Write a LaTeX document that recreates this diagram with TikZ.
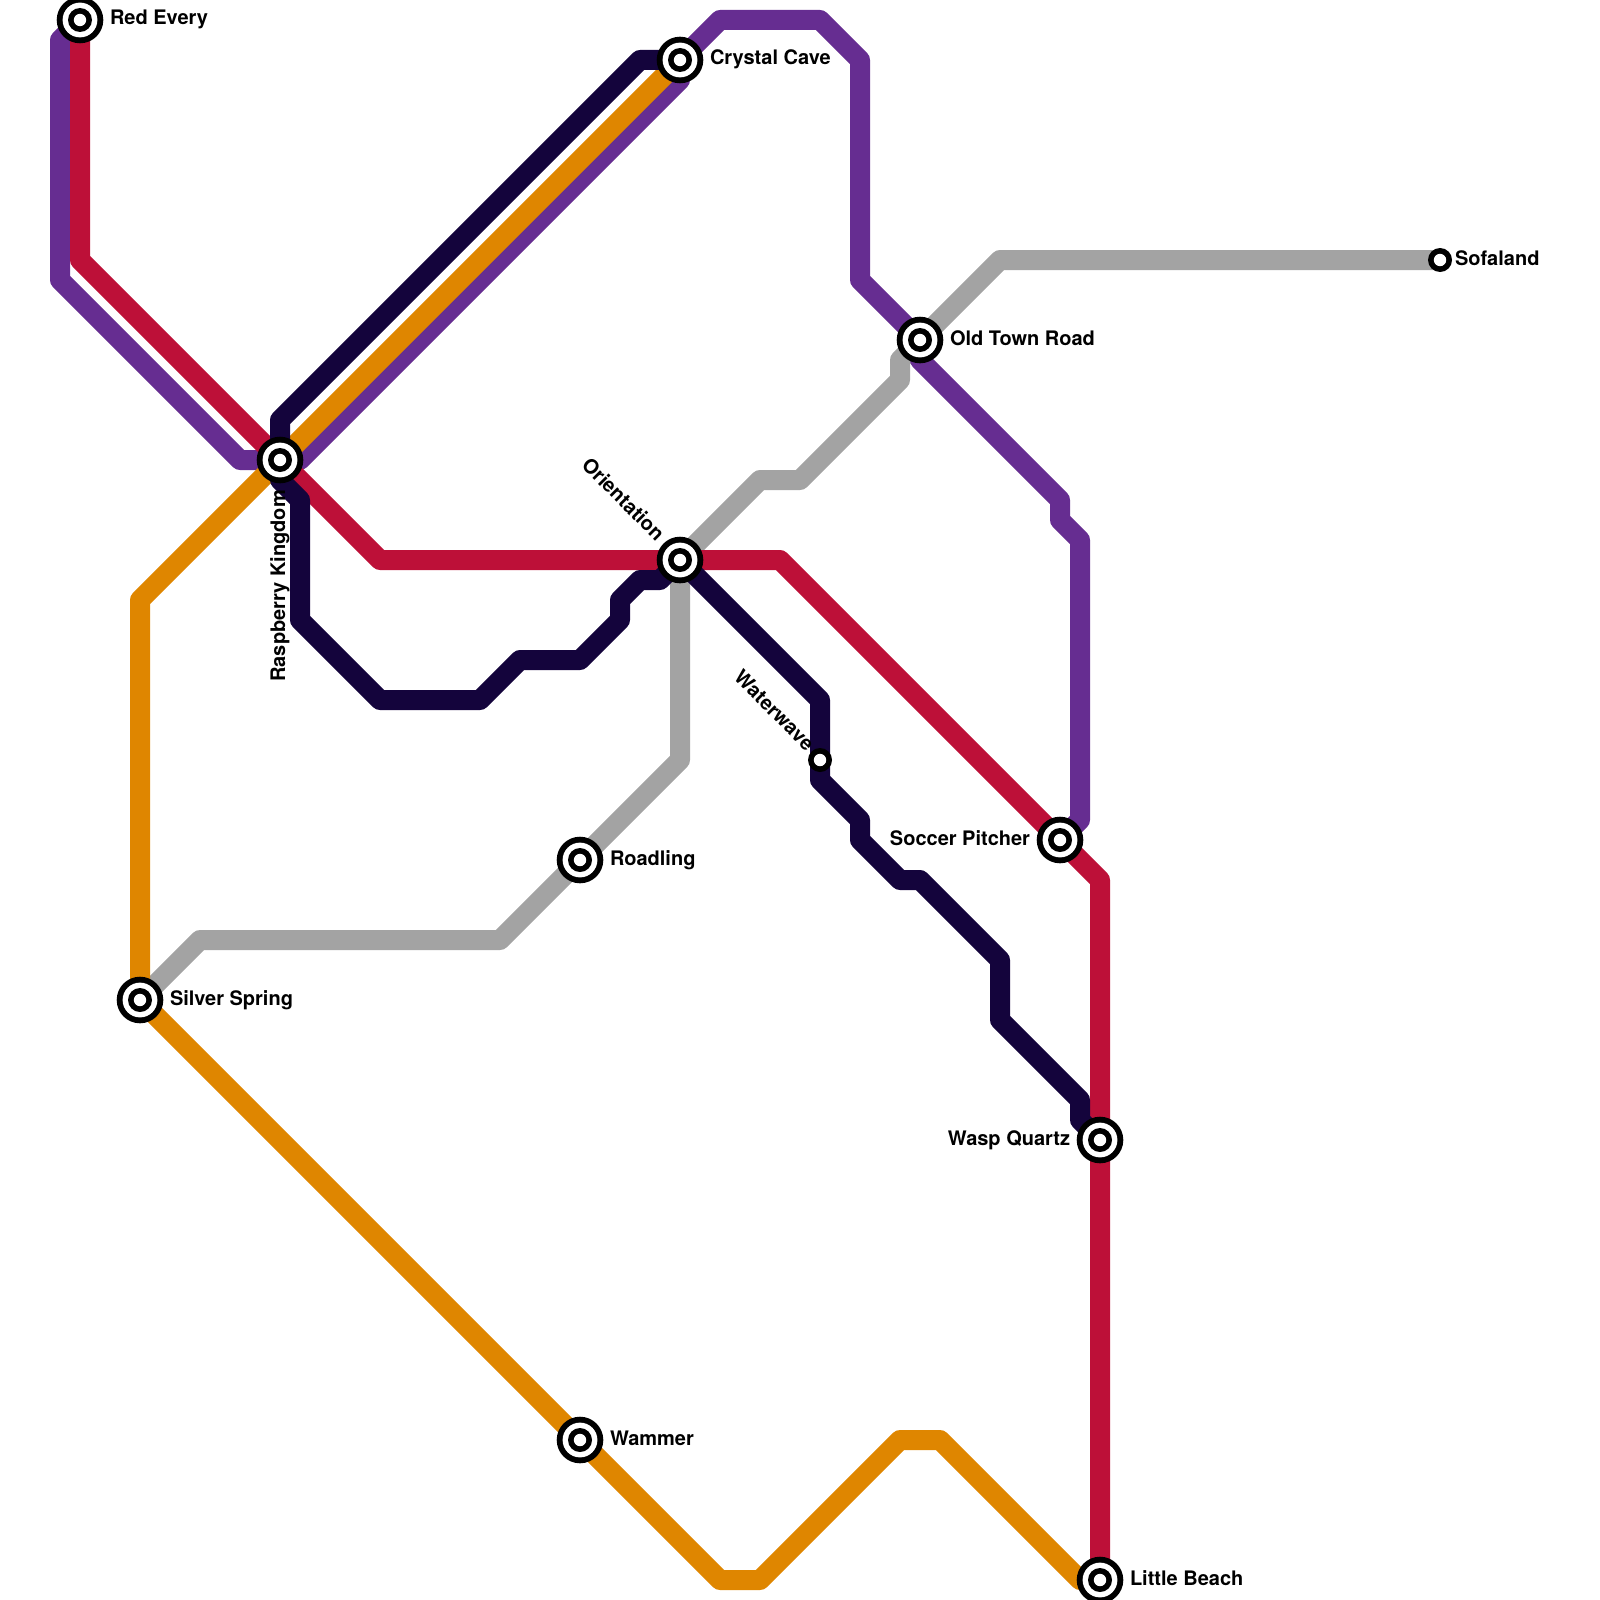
\documentclass[tikz,border=0pt]{standalone}
\usepackage{fontspec}
\setmainfont{TeX Gyre Heros}
\definecolor{lpurple}{HTML}{662D91}
\definecolor{lred}{HTML}{BD1038}
\definecolor{lorange}{HTML}{DF8600}
\definecolor{lnavy}{HTML}{14043C}
\definecolor{lgray}{HTML}{A3A3A3}
\pgfdeclarelayer{lines}
\pgfsetlayers{lines,main}
\tikzset{
  metro/.style={line width=20pt,line join=round,line cap=butt},
  hub/.style={circle,fill=black,draw=none,minimum size=46.6pt,inner sep=0pt,outer sep=0pt,
    path picture={
      \fill[white] (path picture bounding box.center) circle (17.4pt);
      \fill[black] (path picture bounding box.center) circle (12pt);
      \fill[white] (path picture bounding box.center) circle (6.2pt);}},
  halt/.style={circle,fill=black,draw=none,minimum size=24pt,inner sep=0pt,outer sep=0pt,
    path picture={\fill[white] (path picture bounding box.center) circle (6.2pt);}},
  lab/.style={inner sep=0pt,outer sep=0pt,text=black,font=\fontsize{20pt}{20pt}\selectfont\bfseries},
}
\begin{document}
\begin{tikzpicture}[x=1pt,y=-1pt]
\useasboundingbox (0,0) rectangle (1600,1600);
\clip (0,0) rectangle (1600,1600);
% stations
\node[hub] (redevery) at (80,20) {};
\node[hub] (raspberry) at (280,460) {};
\node[hub] (crystal) at (680,60) {};
\node[hub] (orientation) at (680,560) {};
\node[hub] (oldtown) at (920,340) {};
\node[hub] (roadling) at (580,860) {};
\node[hub] (silver) at (140,1000) {};
\node[hub] (wammer) at (580,1440) {};
\node[hub] (soccer) at (1060,840) {};
\node[hub] (wasp) at (1100,1140) {};
\node[hub] (little) at (1100,1580) {};
\node[halt] (waterwave) at (820,760) {};
\node[halt] (sofaland) at (1440,260) {};
% labels
\node[lab,anchor=base west] (tredevery) at (110,25) {Red Every};
\node[lab,anchor=base west] (tcrystal) at (710,65) {Crystal Cave};
\node[lab,anchor=base west] (toldtown) at (950,345) {Old Town Road};
\node[lab,anchor=base west] (tsofaland) at (1455,265) {Sofaland};
\node[lab,anchor=base west] (troadling) at (610,865) {Roadling};
\node[lab,anchor=base west] (tsilver) at (170,1005) {Silver Spring};
\node[lab,anchor=base west] (twammer) at (610,1445) {Wammer};
\node[lab,anchor=base west] (tlittle) at (1130,1585) {Little Beach};
\node[lab,anchor=base east] (tsoccer) at (1030,845) {Soccer Pitcher};
\node[lab,anchor=base east] (twasp) at (1070,1145) {Wasp Quartz};
\node[lab,anchor=base east,rotate=90] (traspberry) at (285,490) {Raspberry Kingdom};
\node[lab,anchor=base east,rotate=-45] (torientation) at (656,542) {Orientation};
\node[lab,anchor=base east,rotate=-45] (twaterwave) at (806,752) {Waterwave};
% lines
\begin{pgfonlayer}{lines}
\draw[metro,lgray] (sofaland.center) -- (1000,260) -- (oldtown.center) -- (900,360) -- (900,380) -- (800,480) -- (760,480)
  -- (orientation.center) -- (680,760) -- (roadling.center) -- (500,940) -- (200,940) -- (silver.center);
\draw[metro,lpurple] (redevery.center) -- (60,40) -- (60,280) -- (240,460) -- (raspberry.center) -- (300,460) -- (680,80)
  -- (crystal.center) -- (720,20) -- (820,20) -- (860,60) -- (860,280) -- (oldtown.center) -- (920,360) -- (1060,500)
  -- (1060,520) -- (1080,540) -- (1080,820) -- (soccer.center);
\draw[metro,lorange] (crystal.center) -- (raspberry.center) -- (140,600) -- (silver.center) -- (wammer.center) -- (720,1580)
  -- (760,1580) -- (900,1440) -- (940,1440) -- (1080,1580) -- (little.center);
\draw[metro,lred] (redevery.center) -- (80,260) -- (raspberry.center) -- (380,560) -- (orientation.center) -- (780,560)
  -- (soccer.center) -- (1100,880) -- (wasp.center) -- (little.center);
\draw[metro,lnavy] (crystal.center) -- (640,60) -- (280,420) -- (raspberry.center) -- (280,480) -- (300,500) -- (300,620) -- (380,700)
  -- (480,700) -- (520,660) -- (580,660) -- (620,620) -- (620,600) -- (640,580) -- (660,580) -- (orientation.center)
  -- (820,700) -- (waterwave.center) -- (820,780) -- (860,820) -- (860,840) -- (900,880) -- (920,880) -- (1000,960)
  -- (1000,1020) -- (1080,1100) -- (1080,1120) -- (wasp.center);
\end{pgfonlayer}
\end{tikzpicture}
\end{document}
